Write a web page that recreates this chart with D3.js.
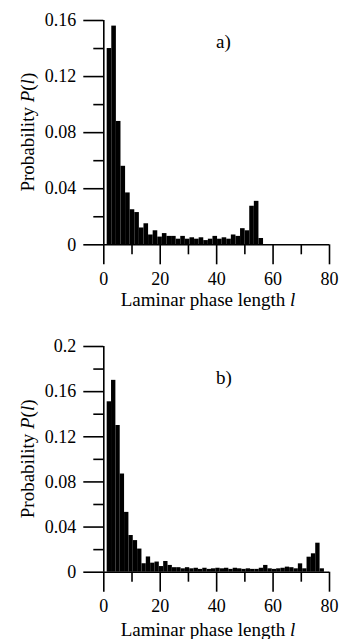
<!DOCTYPE html>
<html><head><meta charset="utf-8">
<script src="https://cdn.jsdelivr.net/npm/d3@7"></script>
<style>
html,body{margin:0;padding:0;background:#fff;}
svg text{font-family:"Liberation Serif","Times New Roman",serif;fill:#000;}
</style></head>
<body>
<svg id="chart" width="339" height="639"></svg>
<script>
// ---- data ----
const xTicksMajor = [0, 20, 40, 60, 80];
const xTicksMinor = [10, 30, 50, 70];
const yTicksA = ["0", "0.04", "0.08", "0.12", "0.16"];
const yTicksB = ["0", "0.04", "0.08", "0.12", "0.16", "0.2"];
// histogram a): bins start at l = 1.2, width 1.63
const binStartA = 1.2, binWidthA = 1.63;
const probA = [0.140, 0.156, 0.088, 0.056, 0.037, 0.025, 0.023, 0.012, 0.015, 0.007,
               0.010, 0.0055, 0.008, 0.006, 0.006, 0.004, 0.006, 0.004, 0.005, 0.004,
               0.005, 0.003, 0.004, 0.006, 0.004, 0.005, 0.004, 0.007, 0.006, 0.0115,
               0.010, 0.0275, 0.031, 0.0045];
// histogram b): bins start at l = 1.2, width 1.54
const binStartB = 1.2, binWidthB = 1.54;
const probB = [0.151, 0.170, 0.130, 0.087, 0.053, 0.0325, 0.028, 0.0205, 0.0075, 0.0135,
               0.008, 0.009, 0.005, 0.0095, 0.006, 0.004, 0.004, 0.003, 0.004, 0.003,
               0.0035, 0.0025, 0.0035, 0.0025, 0.003, 0.0035, 0.003, 0.0035, 0.0025, 0.0035,
               0.003, 0.0025, 0.003, 0.0025, 0.0025, 0.0035, 0.006, 0.003, 0.0025, 0.003,
               0.0035, 0.0045, 0.004, 0.003, 0.0074, 0.003, 0.0133, 0.0163, 0.0257, 0.003];
const panelLabels = ["a)", "b)"];

const svg = d3.select("#chart");
const FS_TICK = 18, FS_LABEL = 19;

function panel(cfg) {
  const x = d3.scaleLinear().domain([0, 80]).range([103.3, 329]);
  const y = d3.scaleLinear().domain([0, cfg.yMax]).range([cfg.y0, cfg.yTop]);
  const g = svg.append("g");

  // bars
  g.selectAll("rect.bar").data(cfg.probs).enter().append("rect")
    .attr("x", (d, i) => x(cfg.start + i * cfg.width))
    .attr("width", (d, i) => x(cfg.start + (i + 1) * cfg.width) - x(cfg.start + i * cfg.width))
    .attr("y", d => y(d))
    .attr("height", d => y(0) - y(d))
    .attr("fill", "#000");

  // x axis
  const xAxis = d3.axisBottom(x).tickValues(xTicksMajor).tickSize(20).tickPadding(8)
    .tickFormat(d3.format("d"));
  const xg = g.append("g").attr("transform", `translate(0,${y(0)})`).call(xAxis);
  xg.select(".domain").attr("d", `M${x(0)},0.5H${x(80)}`);
  const xMinor = d3.axisBottom(x).tickValues(xTicksMinor).tickSize(10).tickFormat("");
  const xmg = g.append("g").attr("transform", `translate(0,${y(0)})`).call(xMinor);
  xmg.select(".domain").remove();

  // y axis
  const yMajorVals = cfg.yTicks.map(Number);
  const yAxis = d3.axisLeft(y).tickValues(yMajorVals).tickSize(20).tickPadding(7)
    .tickFormat((d, i) => cfg.yTicks[i]);
  const yg = g.append("g").attr("transform", `translate(${x(0)},0)`).call(yAxis);
  yg.select(".domain").attr("d", `M0.5,${y(cfg.yMax)}V${y(0)}`);
  const minorVals = yMajorVals.slice(0, -1).map((v, i) => (v + yMajorVals[i + 1]) / 2);
  const yMinor = d3.axisLeft(y).tickValues(minorVals).tickSize(10).tickFormat("");
  const ymg = g.append("g").attr("transform", `translate(${x(0)},0)`).call(yMinor);
  ymg.select(".domain").remove();

  g.selectAll(".tick line, .domain").attr("stroke", "#000").attr("stroke-width", 1.6);
  g.selectAll(".tick text").attr("font-size", FS_TICK)
    .attr("font-family", "Liberation Serif, Times New Roman, serif");

  // x label
  const xl = g.append("text").attr("x", 208).attr("y", cfg.xLabelY)
    .attr("text-anchor", "middle").attr("font-size", FS_LABEL);
  xl.append("tspan").text("Laminar phase length ");
  xl.append("tspan").attr("font-style", "italic").text("l");

  // y label
  const yl = g.append("text")
    .attr("transform", `translate(34,${(y(0) + y(cfg.yMax)) / 2}) rotate(-90)`)
    .attr("text-anchor", "middle").attr("font-size", FS_LABEL);
  yl.append("tspan").text("Probability ");
  yl.append("tspan").attr("font-style", "italic").text("P");
  yl.append("tspan").text("(");
  yl.append("tspan").attr("font-style", "italic").text("l");
  yl.append("tspan").text(")");

  // panel label
  g.append("text").attr("x", 216).attr("y", cfg.labelY).attr("font-size", FS_LABEL)
    .text(cfg.label);
}

panel({probs: probA, start: binStartA, width: binWidthA, yMax: 0.16, y0: 244.3, yTop: 20,
       yTicks: yTicksA, xLabelY: 306, labelY: 48, label: panelLabels[0]});
panel({probs: probB, start: binStartB, width: binWidthB, yMax: 0.2, y0: 571.7, yTop: 346,
       yTicks: yTicksB, xLabelY: 636, labelY: 384, label: panelLabels[1]});
</script>
</body></html>
